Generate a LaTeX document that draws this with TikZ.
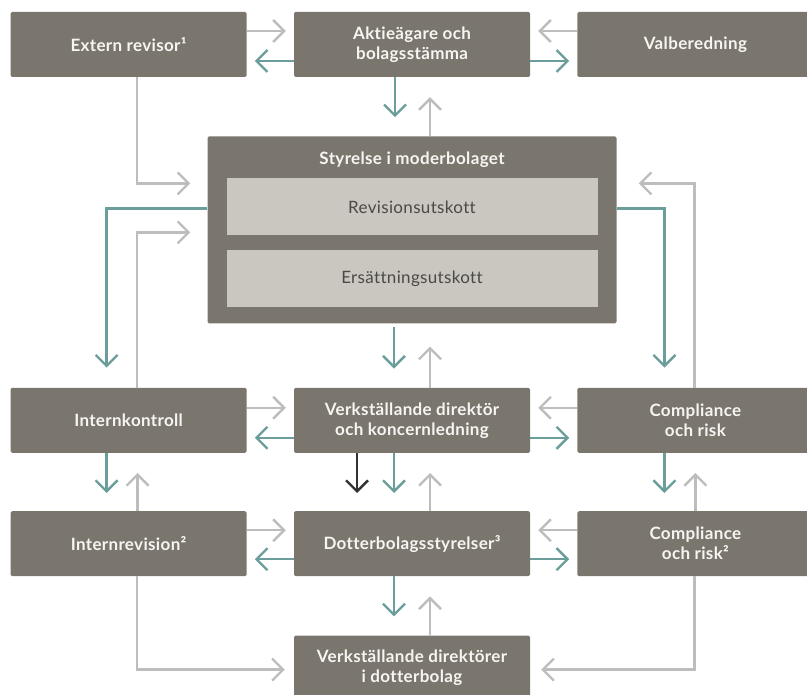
\documentclass[tikz,border=0pt]{standalone}
\usepackage{fontspec}
\setmainfont{Lato}
\newfontfamily\boxfont{Lato}[LetterSpace=2.0, RawFeature={-liga;-dlig}]
\usepackage{tikz}
\usetikzlibrary{positioning}
\usetikzlibrary{arrows.meta}

\definecolor{boxgray}{HTML}{7A766E}
\definecolor{subgray}{HTML}{CAC7C1}
\definecolor{subtext}{HTML}{4B4944}
\definecolor{boxtext}{HTML}{F7F5F1}
\definecolor{tealline}{HTML}{6B9E9B}
\definecolor{grayline}{HTML}{BDBDBD}
\definecolor{darkline}{HTML}{333231}

\tikzstyle{box} = [fill=boxgray, rounded corners=1.5pt, minimum width=236pt, minimum height=65pt, inner sep=0pt, text=boxtext, align=center, font=\boxfont\fontsize{17}{20}\selectfont\bfseries]
\tikzstyle{subbox} = [fill=subgray, minimum width=371pt, minimum height=57pt, inner sep=0pt, text=subtext, font=\boxfont\fontsize{17}{20}\selectfont]
\tikzstyle{tealarr} = [draw=tealline, line width=2.4pt, -{Straight Barb[length=11pt, width=22pt, line cap=butt, line join=miter]}]
\tikzstyle{grayarr} = [draw=grayline, line width=2.4pt, -{Straight Barb[length=11pt, width=22pt, line cap=butt, line join=miter]}]
\tikzstyle{darkarr} = [draw=darkline, line width=2.4pt, -{Straight Barb[length=11pt, width=22pt, line cap=butt, line join=miter]}]

\begin{document}
\begin{tikzpicture}[x=1pt, y=1pt]
    \useasboundingbox (0,0) rectangle (807,-695);

    % top row
    \node[box] (aktie) at (412,-44.5) {Aktieägare och\\bolagsstämma};
    \node[box, left=47pt of aktie] (ext) {Extern revisor¹};
    \node[box, right=47pt of aktie] (valb) {Valberedning};

    % board
    \node[box, minimum width=409pt, minimum height=187pt, below=59pt of aktie] (styr) {};
    \node[text=boxtext, font=\boxfont\fontsize{17}{20}\selectfont\bfseries, below=12pt of styr.north] (styrtitle) {Styrelse i moderbolaget};
    \node[subbox, below=42pt of styr.north] (rev) {Revisionsutskott};
    \node[subbox, below=14pt of rev] (ers) {Ersättningsutskott};

    % middle row
    \node[box, below=64pt of styr] (verk) {Verkställande direktör\\och koncernledning};
    \node[box, left=47pt of verk] (intk) {Internkontroll};
    \node[box, right=47pt of verk] (comp) {Compliance\\och risk};

    % subsidiaries
    \node[box, below=58pt of verk] (dotter) {Dotterbolagsstyrelser³};
    \node[box, left=47pt of dotter] (intr) {Internrevision²};
    \node[box, right=47pt of dotter] (compsub) {Compliance\\och risk²};
    \node[box, below=59pt of dotter] (vdd) {Verkställande direktörer\\i dotterbolag};

    % top row arrows
    \draw[grayarr, shorten >=8pt] ([yshift=13.5pt]ext.east) -- ([yshift=13.5pt]aktie.west);
    \draw[tealarr, shorten >=8pt] ([yshift=-16.5pt]aktie.west) -- ([yshift=-16.5pt]ext.east);
    \draw[grayarr, shorten >=8pt] ([yshift=13.5pt]valb.west) -- ([yshift=13.5pt]aktie.east);
    \draw[tealarr, shorten >=8pt] ([yshift=-16.5pt]aktie.east) -- ([yshift=-16.5pt]valb.west);
    \draw[tealarr, shorten >=19pt] ([xshift=-17pt]aktie.south) -- ([xshift=-17pt]aktie.south |- styr.north);
    \draw[grayarr, shorten >=20pt] ([xshift=18pt]aktie.south |- styr.north) -- ([xshift=18pt]aktie.south);

    % around the board
    \draw[grayarr, shorten >=17pt] ([xshift=8.5pt]ext.south) |- ([yshift=46.5pt]styr.west);
    \draw[tealarr, shorten >=20pt] ([yshift=21.5pt]styr.west) -| ([xshift=-22pt]intk.north);
    \draw[grayarr, shorten >=17pt] ([xshift=8.5pt]intk.north) |- ([yshift=-2.5pt]styr.west);
    \draw[tealarr, shorten >=20pt] ([yshift=21.5pt]styr.east) -| ([xshift=-31pt]comp.north);
    \draw[grayarr, shorten >=22pt] ([xshift=-1pt]comp.north) |- ([yshift=46.5pt]styr.east);
    \draw[tealarr, shorten <=3pt, shorten >=19pt] ([xshift=-18pt]verk.north |- styr.south) -- ([xshift=-18pt]verk.north);
    \draw[grayarr, shorten >=23pt] ([xshift=18pt]verk.north) -- ([xshift=18pt]verk.north |- styr.south);

    % middle row arrows
    \draw[grayarr, shorten >=8pt] ([yshift=12.5pt]intk.east) -- ([yshift=12.5pt]verk.west);
    \draw[tealarr, shorten >=8pt] ([yshift=-17.5pt]verk.west) -- ([yshift=-17.5pt]intk.east);
    \draw[grayarr, shorten >=8pt] ([yshift=12.5pt]comp.west) -- ([yshift=12.5pt]verk.east);
    \draw[tealarr, shorten >=8pt] ([yshift=-17.5pt]verk.east) -- ([yshift=-17.5pt]comp.west);
    \draw[tealarr, shorten >=18pt] ([xshift=-22pt]intk.south) -- ([xshift=-22pt]intr.north);
    \draw[grayarr, shorten >=20pt] ([xshift=9pt]intr.north) -- ([xshift=9pt]intk.south);
    \draw[darkarr, shorten >=18pt] ([xshift=-55pt]verk.south) -- ([xshift=-55pt]dotter.north);
    \draw[tealarr, shorten >=18pt] ([xshift=-18pt]verk.south) -- ([xshift=-18pt]dotter.north);
    \draw[grayarr, shorten >=20pt] ([xshift=18pt]dotter.north) -- ([xshift=18pt]verk.south);
    \draw[tealarr, shorten >=18pt] ([xshift=-31pt]comp.south) -- ([xshift=-31pt]compsub.north);
    \draw[grayarr, shorten >=20pt] ([xshift=0pt]compsub.north) -- ([xshift=0pt]comp.south);

    % subsidiary arrows
    \draw[grayarr, shorten >=8pt] ([yshift=13.5pt]intr.east) -- ([yshift=13.5pt]dotter.west);
    \draw[tealarr, shorten >=8pt] ([yshift=-15.5pt]dotter.west) -- ([yshift=-15.5pt]intr.east);
    \draw[grayarr, shorten >=8pt] ([yshift=13.5pt]compsub.west) -- ([yshift=13.5pt]dotter.east);
    \draw[tealarr, shorten >=8pt] ([yshift=-15.5pt]dotter.east) -- ([yshift=-15.5pt]compsub.west);
    \draw[tealarr, shorten >=19pt] ([xshift=-18pt]dotter.south) -- ([xshift=-18pt]vdd.north);
    \draw[grayarr, shorten >=20pt] ([xshift=18pt]vdd.north) -- ([xshift=18pt]dotter.south);
    \draw[grayarr, shorten >=9pt] ([xshift=8.5pt]intr.south) |- ([yshift=-1.5pt]vdd.west);
    \draw[grayarr, shorten >=11pt] ([xshift=-1pt]compsub.south) |- ([yshift=-1.5pt]vdd.east);
\end{tikzpicture}
\end{document}
